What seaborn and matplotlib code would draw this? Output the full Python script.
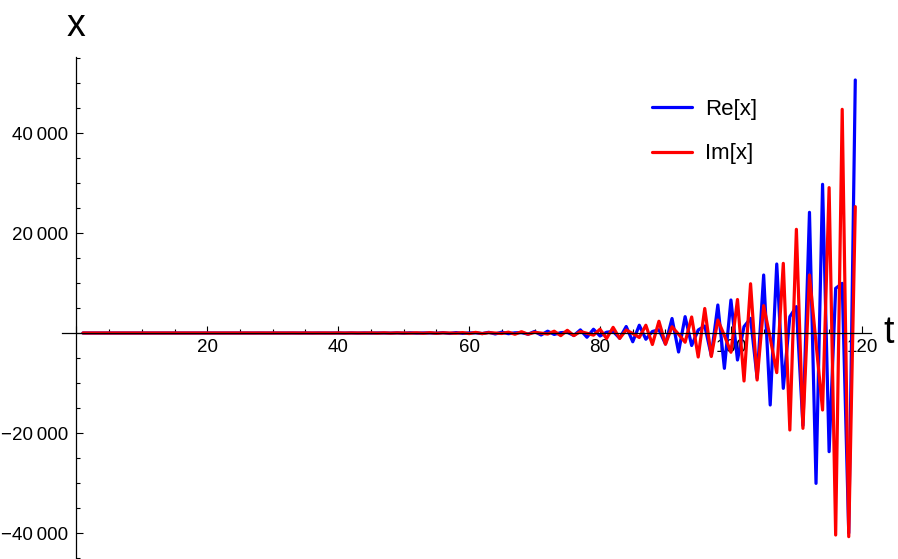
import numpy as np
import pandas as pd
import matplotlib
matplotlib.use('Agg')
import matplotlib.pyplot as plt
import seaborn as sns
from matplotlib.ticker import MultipleLocator, FuncFormatter

sns.set_theme(style='white')
plt.rcParams['font.family'] = ['Liberation Sans', 'DejaVu Sans']
plt.rcParams['text.color'] = 'black'

## time steps 1..119 and the two parts of x
t = np.arange(1, 120)

re_x = [0, 0, 0, 0, 0, 0,
        0, 0, 0, 0, 0, 0, -1,
        1, -1, 1, -1, 0, 0, -1,
        2, -2, 2, -2, 0, 1, -3,
        4, -5, 4, -4, 1, 2, -6,
        8, -10, 9, -8, 2, 4, -13,
        16, -21, 19, -16, 4, 8, -26,
        33, -43, 39, -33, 8, 17, -55,
        70, -90, 80, -70, 15, 35, -115,
        140, -190, 170, -140, 35, 75, -240,
        300, -400, 360, -290, 70, 150, -500,
        620, -850, 750, -600, 150, 320, -1050,
        1300, -1750, 1550, -1250, 300, 650, -2200,
        2900, -3800, 3270, -2500, 600, 1400, -4500,
        5600, -7070, 6600, -5400, 1270, 2930, -9000,
        11600, -14400, 13800, -11070, 3270, 5270, -18500,
        24130, -30070, 29730, -23730, 8930, 9930, -40000,
        50600]

im_x = [0, 0, 0, 0, 0, 0,
        0, 0, 0, 0, -1, 1, -1,
        0, 0, -1, 1, -1, 2, -1,
        1, 0, -1, 2, -3, 3, -3,
        2, 0, -3, 4, -6, 7, -6,
        4, 0, -6, 9, -13, 14, -13,
        8, -1, -12, 19, -28, 29, -28,
        16, -2, -24, 39, -58, 60, -58,
        30, -5, -50, 80, -120, 125, -120,
        70, -10, -100, 170, -250, 260, -250,
        140, -20, -210, 360, -530, 540, -520,
        290, -50, -430, 750, -1100, 1130, -1080,
        600, -100, -900, 1550, -2300, 2350, -2250,
        1250, -250, -1850, 3200, -4800, 4900, -4700,
        2600, -500, -3850, 6700, -9600, 9850, -9400,
        5470, -1000, -7930, 13930, -19400, 20730, -19070,
        11600, -2000, -15400, 29070, -40400, 44730, -40730,
        25270]

series_names = ['Re[x]', 'Im[x]']
colors = {'Re[x]': '#0000ff', 'Im[x]': '#ff0000'}

df = pd.concat([
    pd.DataFrame({'t': t, 'value': re_x, 'series': 'Re[x]'}),
    pd.DataFrame({'t': t, 'value': im_x, 'series': 'Im[x]'}),
])

W, H = 898, 559
fig = plt.figure(figsize=(W / 100, H / 100), dpi=100)
ax = fig.add_axes([62 / W, 0, (871 - 62) / W, (H - 57) / H])

sns.lineplot(data=df, x='t', y='value', hue='series', hue_order=series_names,
             palette=colors, linewidth=2.3, ax=ax, estimator=None, sort=False)

ax.set_xlim(-2.2, 121.4)
ax.set_ylim(-45200, 55200)

## mathematica style axes crossing at the origin
for s in ['top', 'right']:
    ax.spines[s].set_visible(False)
ax.spines['left'].set_position(('data', 0))
ax.spines['bottom'].set_position(('data', 0))
for s in ['left', 'bottom']:
    ax.spines[s].set_color('black')
    ax.spines[s].set_linewidth(0.9)
ax.set_axisbelow(True)

def yfmt(v, pos):
    if v == 0:
        return ''
    s = f'{abs(v):,.0f}'.replace(',', '\u2009')
    return ('\u2212' if v < 0 else '') + s

def xfmt(v, pos):
    return '' if v == 0 else f'{v:.0f}'

ax.xaxis.set_major_locator(MultipleLocator(20))
ax.xaxis.set_minor_locator(MultipleLocator(5))
ax.yaxis.set_major_locator(MultipleLocator(20000))
ax.yaxis.set_minor_locator(MultipleLocator(5000))
ax.xaxis.set_major_formatter(FuncFormatter(xfmt))
ax.yaxis.set_major_formatter(FuncFormatter(yfmt))
ax.tick_params(which='both', direction='in', color='black', width=0.8,
               labelsize=13.5, labelcolor='black', bottom=True, left=True)
ax.tick_params(which='major', length=5)
ax.tick_params(which='minor', length=3)
ax.tick_params(axis='y', pad=6)
ax.tick_params(axis='x', pad=4)

ax.set_xlabel('')
ax.set_ylabel('')
fig.text(76 / W, 1 - 26 / H, 'x', fontsize=27, ha='center', va='center', color='black')
fig.text(889 / W, 1 - 333 / H, 't', fontsize=27, ha='center', va='center', color='black')

ax.legend(loc='upper left', bbox_to_anchor=(652 / W, 1 - 99 / H),
          bbox_transform=fig.transFigure, frameon=False, fontsize=16,
          handlelength=1.8, handletextpad=0.6, labelspacing=1.05,
          borderpad=0, borderaxespad=0, title=None, labelcolor='black')

fig.savefig('out.png', dpi=100)
